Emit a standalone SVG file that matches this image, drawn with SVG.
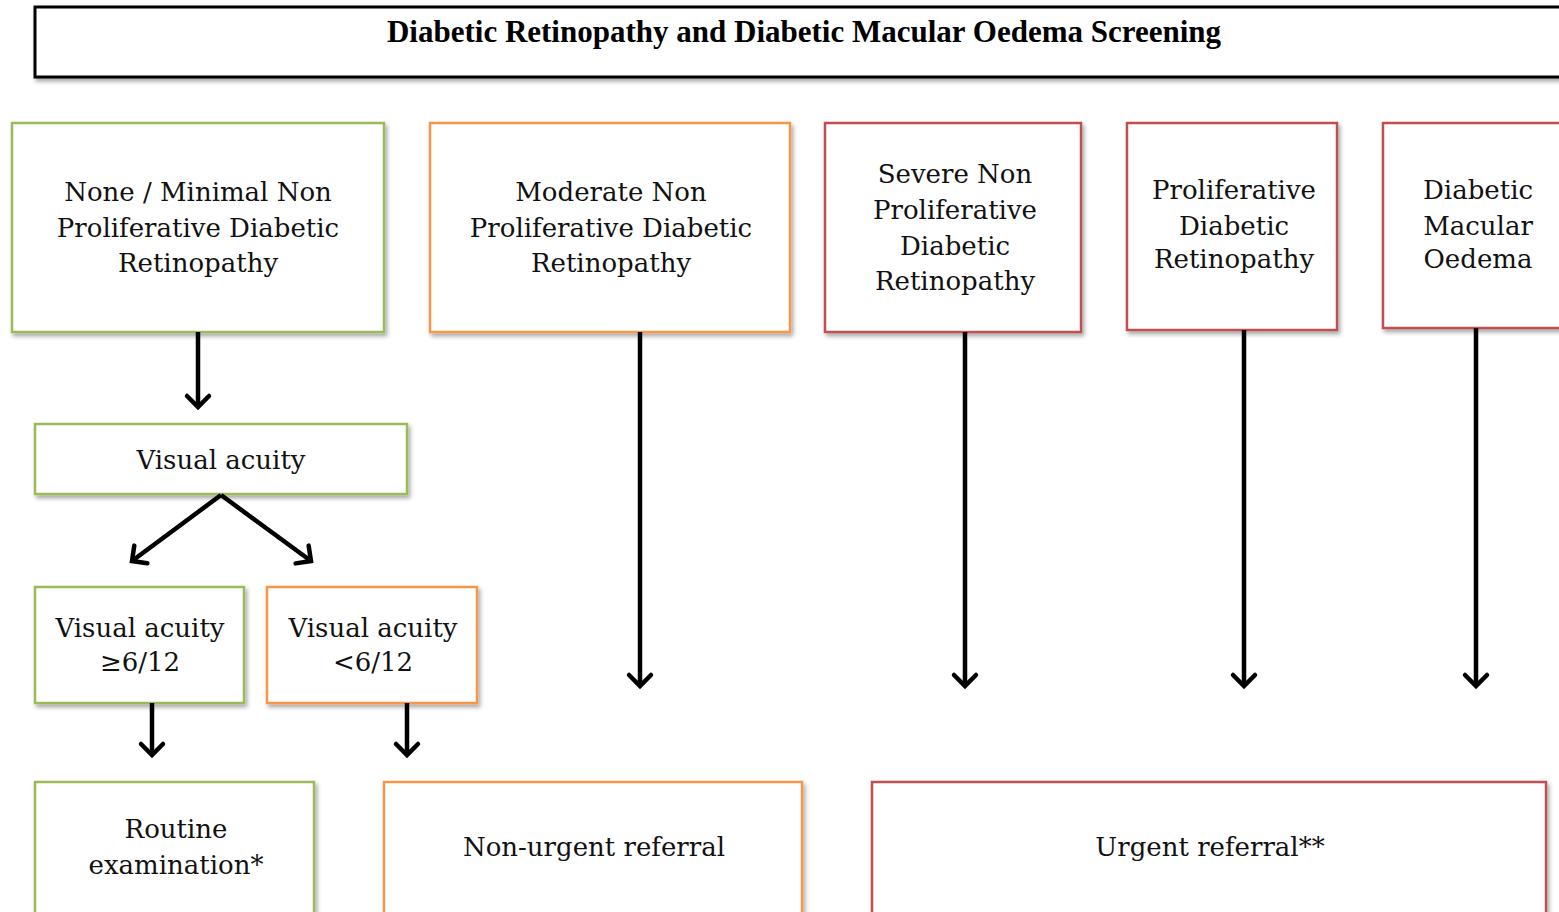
<svg xmlns="http://www.w3.org/2000/svg" width="1559" height="912" viewBox="0 0 1559 912">
<defs>
<filter id="sh" x="-10%" y="-10%" width="130%" height="130%">
<feDropShadow dx="2" dy="3" stdDeviation="2" flood-color="#000" flood-opacity="0.35"/>
</filter>
<marker id="ah" viewBox="-16 -16 32 32" markerWidth="32" markerHeight="32" refX="0" refY="0" orient="auto" markerUnits="userSpaceOnUse">
<path d="M-11,-11 L0,0 L-11,11" fill="none" stroke="#000" stroke-width="4.5" stroke-linecap="round" stroke-linejoin="miter"/>
</marker>
</defs>
<style>
.box{fill:#fff;stroke-width:2.5;filter:url(#sh)}
.g{stroke:#9bbb59}
.o{stroke:#f79646}
.r{stroke:#c0504d}
.t{font-family:"DejaVu Serif","Liberation Serif",serif;font-size:26px;fill:#111;text-anchor:middle}
.title{font-family:"Liberation Serif",serif;font-size:31px;font-weight:bold;fill:#000;text-anchor:middle}
.c{stroke:#000;stroke-width:4.5;fill:none;marker-end:url(#ah)}
</style>
<rect width="1559" height="912" fill="#fff"/>
<g id="title">
<rect x="35" y="7" width="1540" height="70" fill="#fff" stroke="#000" stroke-width="3" filter="url(#sh)"/>
<text class="title" x="804" y="42">Diabetic Retinopathy and Diabetic Macular Oedema Screening</text>
</g>
<g id="none-minimal">
<rect class="box g" x="12" y="123" width="372" height="209"/>
<text class="t" x="198" y="201">None / Minimal Non</text>
<text class="t" x="198" y="237">Proliferative Diabetic</text>
<text class="t" x="198" y="272">Retinopathy</text>
</g>
<g id="moderate">
<rect class="box o" x="430" y="123" width="360" height="209"/>
<text class="t" x="611" y="201">Moderate Non</text>
<text class="t" x="611" y="237">Proliferative Diabetic</text>
<text class="t" x="611" y="272">Retinopathy</text>
</g>
<g id="severe">
<rect class="box r" x="825" y="123" width="256" height="209"/>
<text class="t" x="955" y="183">Severe Non</text>
<text class="t" x="955" y="219">Proliferative</text>
<text class="t" x="955" y="255">Diabetic</text>
<text class="t" x="955" y="290">Retinopathy</text>
</g>
<g id="proliferative">
<rect class="box r" x="1127" y="123" width="210" height="207"/>
<text class="t" x="1234" y="199">Proliferative</text>
<text class="t" x="1234" y="235">Diabetic</text>
<text class="t" x="1234" y="268">Retinopathy</text>
</g>
<g id="dmo">
<rect class="box r" x="1383" y="123" width="200" height="205"/>
<text class="t" x="1478" y="199">Diabetic</text>
<text class="t" x="1478" y="235">Macular</text>
<text class="t" x="1478" y="268">Oedema</text>
</g>
<g id="visual-acuity">
<rect class="box g" x="35" y="424" width="372" height="70"/>
<text class="t" x="221" y="469">Visual acuity</text>
</g>
<g id="va-good">
<rect class="box g" x="35" y="587" width="209" height="116"/>
<text class="t" x="140" y="637">Visual acuity</text>
<text class="t" x="140" y="671">≥6/12</text>
</g>
<g id="va-poor">
<rect class="box o" x="267" y="587" width="210" height="116"/>
<text class="t" x="373" y="637">Visual acuity</text>
<text class="t" x="373" y="671">&lt;6/12</text>
</g>
<g id="routine">
<rect class="box g" x="35" y="782" width="279" height="140"/>
<text class="t" x="176" y="838">Routine</text>
<text class="t" x="176" y="874">examination*</text>
</g>
<g id="non-urgent">
<rect class="box o" x="384" y="782" width="418" height="140"/>
<text class="t" x="594" y="856">Non-urgent referral</text>
</g>
<g id="urgent">
<rect class="box r" x="872" y="782" width="674" height="140"/>
<text class="t" x="1210" y="856">Urgent referral**</text>
</g>
<g id="connectors">
<line class="c" x1="198" y1="332" x2="198" y2="407"/>
<line class="c" x1="221" y1="495" x2="132" y2="561"/>
<line class="c" x1="221" y1="495" x2="311" y2="561"/>
<line class="c" x1="152" y1="703" x2="152" y2="755"/>
<line class="c" x1="407" y1="703" x2="407" y2="755"/>
<line class="c" x1="640" y1="332" x2="640" y2="686"/>
<line class="c" x1="965" y1="332" x2="965" y2="686"/>
<line class="c" x1="1244" y1="330" x2="1244" y2="686"/>
<line class="c" x1="1476" y1="328" x2="1476" y2="686"/>
</g>
</svg>
